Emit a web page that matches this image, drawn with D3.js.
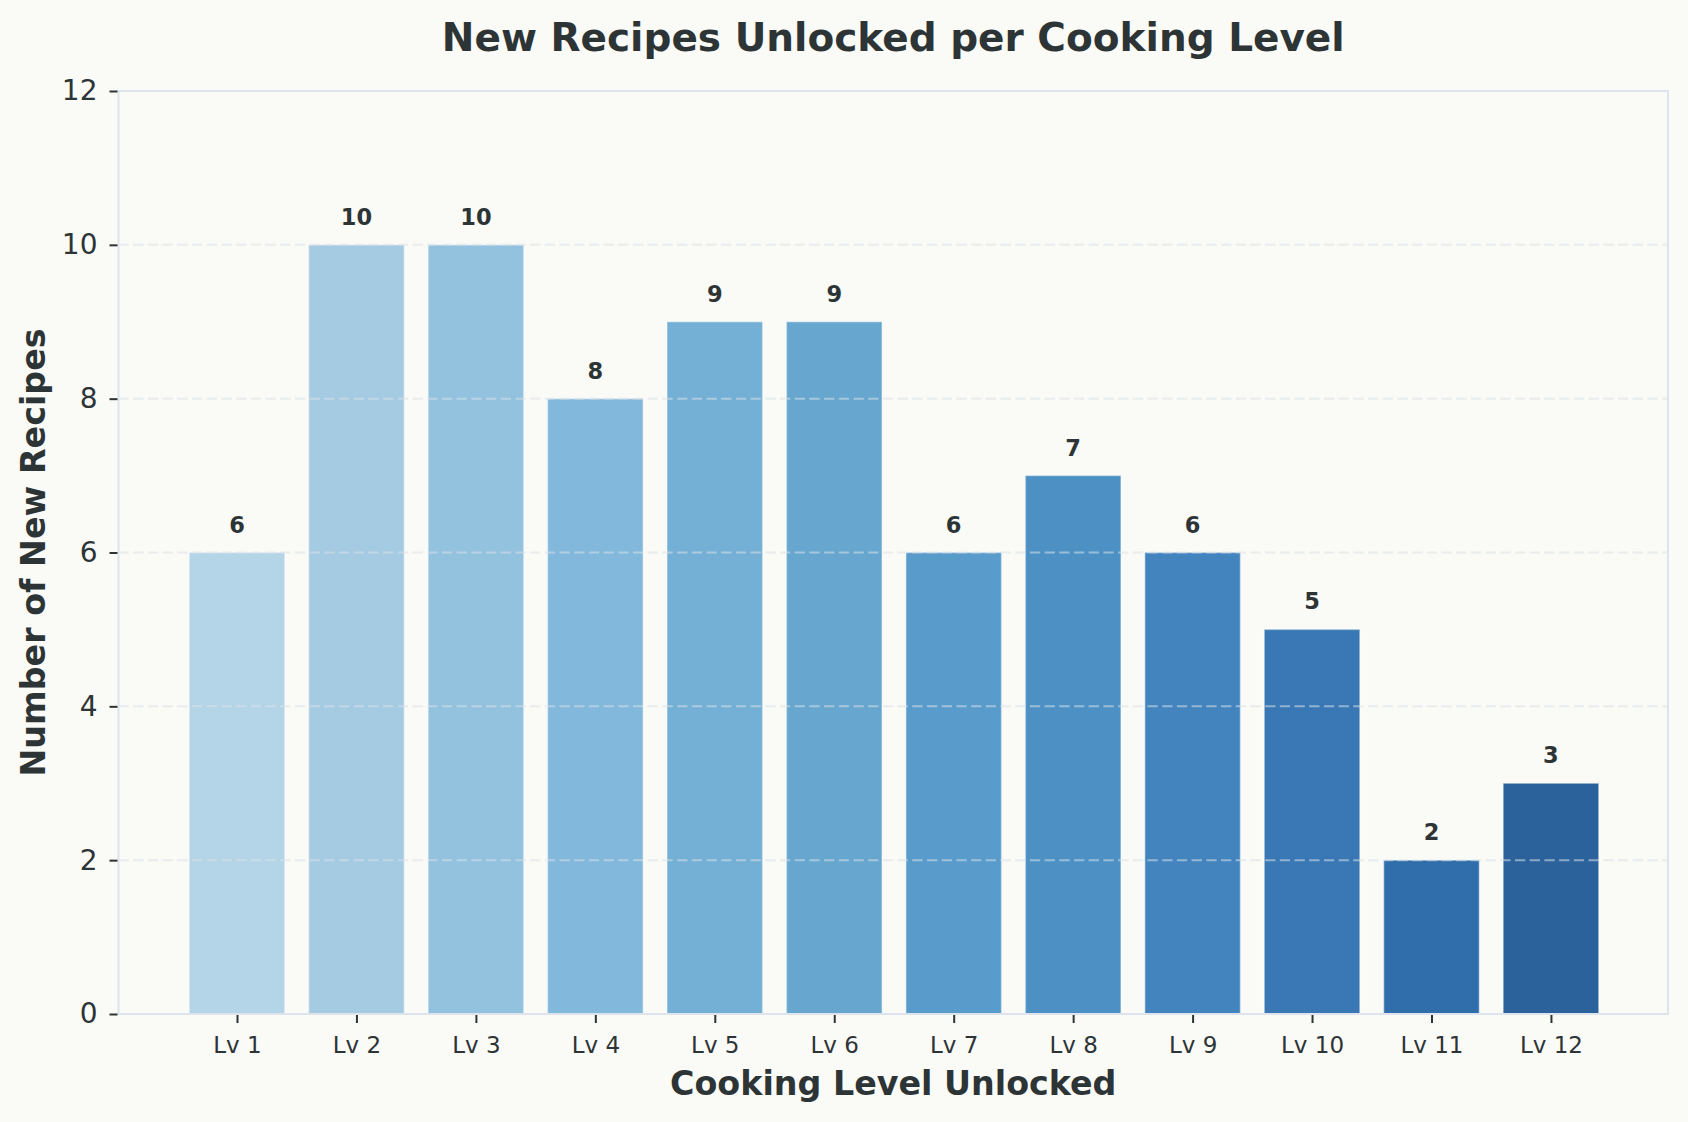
<!DOCTYPE html>
<html>
<head>
<meta charset="utf-8">
<script src="https://cdn.jsdelivr.net/npm/d3@7"></script>
<style>
  html, body { margin: 0; padding: 0; background: #fafaf6; }
  svg { display: block; }
  text { font-family: "DejaVu Sans", sans-serif; fill: #2d3436; }
</style>
</head>
<body>
<svg id="chart" width="1688" height="1122"></svg>
<script>
const levels = ["Lv 1","Lv 2","Lv 3","Lv 4","Lv 5","Lv 6","Lv 7","Lv 8","Lv 9","Lv 10","Lv 11","Lv 12"];
const recipes = [6, 10, 10, 8, 9, 9, 6, 7, 6, 5, 2, 3];
const barColors = ["#b4d4e7","#a5cbe2","#93c2df","#82b8dc","#74afd5","#66a6cf",
                   "#599bca","#4d91c4","#4384bf","#3978b4","#306dab","#2c629c"];
const yTicks = [0, 2, 4, 6, 8, 10, 12];
const titleText = "New Recipes Unlocked per Cooking Level";
const xLabelText = "Cooking Level Unlocked";
const yLabelText = "Number of New Recipes";

const W = 1688, H = 1122;
const m = { left: 118.5, right: 1668, top: 91, bottom: 1014 };
const svg = d3.select("#chart");
svg.append("rect").attr("width", W).attr("height", H).attr("fill", "#fafaf6");

// x as numeric positions (matplotlib style)
const xLin = d3.scaleLinear().domain([-0.992, 11.98]).range([m.left, m.right]);
const barW = 0.8;
const y = d3.scaleLinear().domain([0, 12]).range([m.bottom, m.top]);

// bars
svg.append("g").selectAll("rect").data(recipes).join("rect")
  .attr("x", (d, i) => xLin(i - barW / 2))
  .attr("width", xLin(barW) - xLin(0))
  .attr("y", d => y(d))
  .attr("height", d => y(0) - y(d))
  .attr("fill", (d, i) => barColors[i])
  .attr("stroke", "rgba(255,255,255,0.35)")
  .attr("stroke-width", 1.5);

// grid (drawn above bars)
svg.append("g").selectAll("line").data(yTicks.filter(t => t > 0 && t < 12)).join("line")
  .attr("x1", m.left).attr("x2", m.right)
  .attr("y1", d => y(d)).attr("y2", d => y(d))
  .attr("stroke", "#dbe2e8").attr("stroke-opacity", 0.55)
  .attr("stroke-width", 2).attr("stroke-dasharray", "10.3,4.4");

// spines
svg.append("rect")
  .attr("x", m.left).attr("y", m.top)
  .attr("width", m.right - m.left).attr("height", m.bottom - m.top)
  .attr("fill", "none").attr("stroke", "#dde4ec").attr("stroke-width", 2);

// y axis
const yAxis = d3.axisLeft(y).tickValues(yTicks).tickSize(8).tickPadding(12).tickFormat(d3.format("d"));
const gy = svg.append("g").attr("transform", `translate(${m.left - 1},0)`).call(yAxis);
gy.select(".domain").remove();
gy.selectAll(".tick line").attr("stroke", "#2d3436").attr("stroke-width", 2);
gy.selectAll(".tick text").attr("font-size", 28).attr("fill", "#2d3436")
  .attr("font-family", "DejaVu Sans");

// x axis
const xAxis = d3.axisBottom(xLin).tickValues(d3.range(levels.length)).tickSize(8).tickPadding(14)
  .tickFormat(i => levels[i]);
const gx = svg.append("g").attr("transform", `translate(0,${m.bottom + 1})`).call(xAxis);
gx.select(".domain").remove();
gx.selectAll(".tick line").attr("stroke", "#2d3436").attr("stroke-width", 2);
gx.selectAll(".tick text").attr("font-size", 23).attr("fill", "#2d3436")
  .attr("font-family", "DejaVu Sans");

// value labels
svg.append("g").selectAll("text").data(recipes).join("text")
  .attr("x", (d, i) => xLin(i))
  .attr("y", d => y(d) - 20)
  .attr("text-anchor", "middle")
  .attr("font-size", 22.5).attr("font-weight", "bold")
  .text(d => d);

// title
svg.append("text").attr("x", (m.left + m.right) / 2).attr("y", 51)
  .attr("text-anchor", "middle").attr("font-size", 39).attr("font-weight", "bold")
  .text(titleText);

// x label
svg.append("text").attr("x", (m.left + m.right) / 2).attr("y", 1095)
  .attr("text-anchor", "middle").attr("font-size", 33.3).attr("font-weight", "bold")
  .text(xLabelText);

// y label
svg.append("text").attr("transform", `translate(45,${(m.top + m.bottom) / 2}) rotate(-90)`)
  .attr("text-anchor", "middle").attr("font-size", 33.3).attr("font-weight", "bold")
  .text(yLabelText);
</script>
</body>
</html>
